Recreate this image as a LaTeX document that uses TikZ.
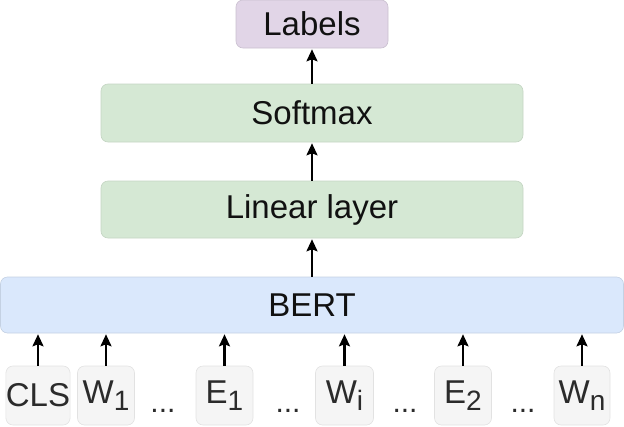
\documentclass[tikz,border=0pt]{standalone}
\usepackage{fontspec}
\setmainfont{Liberation Sans}
\usetikzlibrary{arrows.meta}
\definecolor{lblfill}{HTML}{E1D5E7}
\definecolor{grnfill}{HTML}{D5E8D4}
\definecolor{bluefill}{HTML}{DAE8FC}
\definecolor{tokfill}{HTML}{F5F5F5}
\definecolor{tokline}{HTML}{E2E2E2}
\definecolor{txt}{HTML}{111111}
\definecolor{toktxt}{HTML}{2B2B2B}
\newcommand{\sbs}[1]{\raisebox{-7pt}{\fontsize{28}{28}\selectfont #1}}
\tikzset{
  box/.style={rounded corners=7pt, inner sep=0pt, text=txt, font=\fontsize{33}{40}\selectfont, line width=0.6pt},
  lbl/.style={box, fill=lblfill, draw=lblfill!90!black},
  grn/.style={box, fill=grnfill, draw=grnfill!92!black},
  blu/.style={box, fill=bluefill, draw=bluefill!90!black},
  tok/.style={rounded corners=7pt, inner sep=0pt, fill=tokfill, draw=tokline, line width=0.6pt, text=toktxt, font=\fontsize{33}{40}\selectfont, minimum height=59pt},
  dots/.style={anchor=base, inner sep=0pt, text=toktxt, font=\fontsize{30}{36}\selectfont},
  arr/.style={line width=2.2pt, -{Stealth[length=12pt,width=11pt,inset=2pt]}, shorten >=1pt}
}
\begin{document}
\begin{tikzpicture}[x=1pt,y=-1pt]
\useasboundingbox (0,0) rectangle (624,426);
\node[lbl, minimum width=152pt, minimum height=48pt] (labels) at (312,24) {Labels};
\node[grn, minimum width=422pt, minimum height=58pt] (softmax) at (312,113) {Softmax};
\node[grn, minimum width=422pt, minimum height=57pt] (linear) at (312,209.5) {Linear layer};
\node[blu, minimum width=623pt, minimum height=56pt] (bert) at (312,305) {BERT};
\node[tok, minimum width=60pt] (cls) at (38,395.5) {CLS};
\node[tok, minimum width=57pt] (w1) at (106,395.5) {W\sbs{1}};
\node[tok, minimum width=57pt] (e1) at (224.5,395.5) {E\sbs{1}};
\node[tok, minimum width=58pt] (wi) at (344.5,395.5) {W\sbs{i}};
\node[tok, minimum width=57pt] (e2) at (463,395.5) {E\sbs{2}};
\node[tok, minimum width=56pt] (wn) at (582,395.5) {W\sbs{n}};
\node[dots] (d1) at (163,412) {...};
\node[dots] (d2) at (288,412) {...};
\node[dots] (d3) at (405,412) {...};
\node[dots] (d4) at (523,412) {...};
\foreach \t in {cls,w1,e1,wi,e2,wn}{
  \draw[arr] (\t.north) -- (\t.north |- bert.south);
}
\draw[arr] (bert.north) -- (linear.south);
\draw[arr] (linear.north) -- (softmax.south);
\draw[arr] (softmax.north) -- (labels.south);
\end{tikzpicture}
\end{document}
